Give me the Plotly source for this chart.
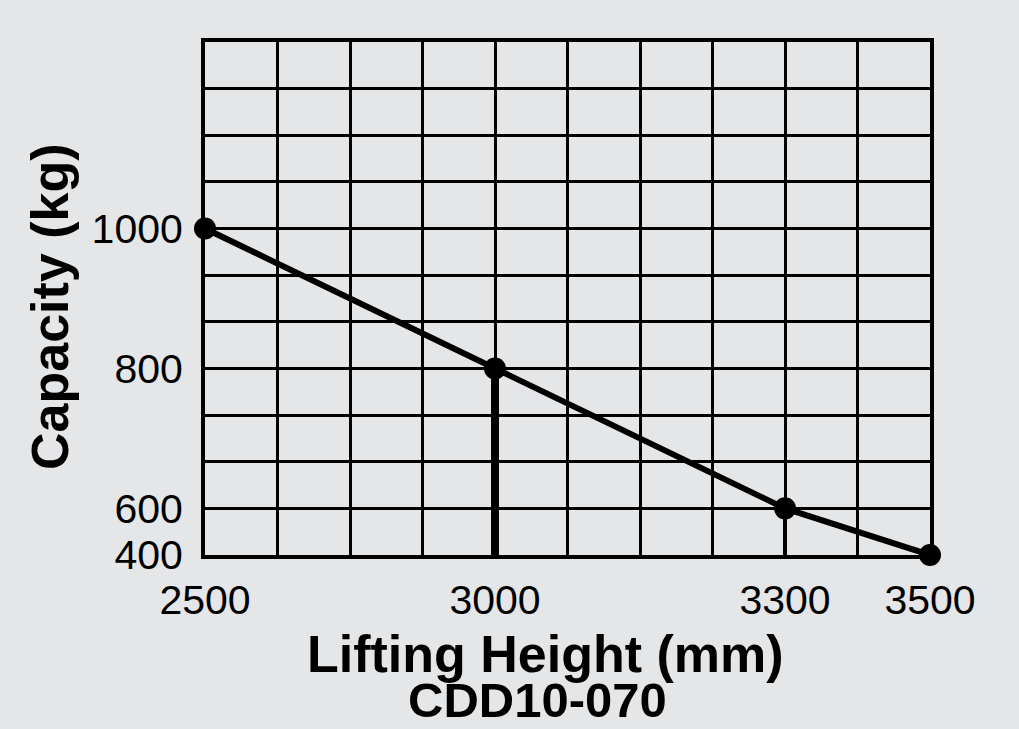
import numpy as np
import plotly.graph_objects as go

# Data
heights = [2500, 3000, 3300, 3500]          # Lifting height (mm)
capacities = [1000, 800, 600, 400]          # Capacity (kg)

# Tick labels and the (non-linear) grid slots they sit on
x_ticks = [2500, 3000, 3300, 3500]
x_slots = [0, 4, 8, 10]
y_ticks = [400, 600, 800, 1000]
y_slots = [0, 1, 4, 7]

def xs(v):
    return np.interp(v, x_ticks, x_slots)

def ys(v):
    return np.interp(v, y_ticks, y_slots)

BG = "#e5e6e8"
FONT = "Liberation Sans, Arial, sans-serif"

fig = go.Figure()

# drop lines from the 3000 and 3300 points
fig.add_trace(go.Scatter(x=[xs(heights[1])] * 2, y=[ys(capacities[-1]), ys(capacities[1])],
                         mode="lines", line=dict(color="black", width=8),
                         hoverinfo="skip", showlegend=False))
fig.add_trace(go.Scatter(x=[xs(heights[2])] * 2, y=[ys(capacities[-1]), ys(capacities[2])],
                         mode="lines", line=dict(color="black", width=4),
                         hoverinfo="skip", showlegend=False))

# main curve
fig.add_trace(go.Scatter(x=xs(heights), y=ys(capacities), mode="lines+markers",
                         line=dict(color="black", width=6),
                         marker=dict(color="black", size=22),
                         cliponaxis=False, showlegend=False))

grid = dict(showgrid=True, gridcolor="black", gridwidth=3)
fig.update_xaxes(range=[0, 10], tickmode="array", tickvals=x_slots,
                 ticktext=[str(v) for v in x_ticks], ticks="", ticklabelstandoff=6,
                 tickfont=dict(size=41, color="black", family=FONT),
                 showline=True, mirror=True, linecolor="black", linewidth=4,
                 zeroline=False, minor=dict(dtick=1, tick0=0, ticks="", **grid), **grid)
fig.update_yaxes(range=[0, 11], tickmode="array", tickvals=y_slots,
                 ticktext=[str(v) for v in y_ticks], ticks="", ticklabelstandoff=10,
                 tickfont=dict(size=41, color="black", family=FONT),
                 showline=True, mirror=True, linecolor="black", linewidth=4,
                 zeroline=False, minor=dict(dtick=1, tick0=0, ticks="", **grid), **grid)

fig.add_annotation(text="<b>Capacity (kg)</b>", xref="paper", yref="paper",
                   x=(50 - 205) / 725, y=(555 - 307) / 513, textangle=-90,
                   showarrow=False, xanchor="center", yanchor="middle",
                   font=dict(size=52, color="black", family=FONT))
fig.add_annotation(text="<b>Lifting Height (mm)</b>", xref="paper", yref="paper",
                   x=(545 - 205) / 725, y=(555 - 654) / 513,
                   showarrow=False, xanchor="center", yanchor="middle",
                   font=dict(size=52, color="black", family=FONT))
fig.add_annotation(text="<b>CDD10-070</b>", xref="paper", yref="paper",
                   x=(537 - 205) / 725, y=(555 - 700) / 513,
                   showarrow=False, xanchor="center", yanchor="middle",
                   font=dict(size=49, color="black", family=FONT))

fig.update_layout(width=1019, height=729,
                  margin=dict(l=205, r=89, t=42, b=174),
                  paper_bgcolor=BG, plot_bgcolor=BG)

fig.write_html("out.html", config={"displayModeBar": False},
               post_script="document.body.style.margin='0';")
